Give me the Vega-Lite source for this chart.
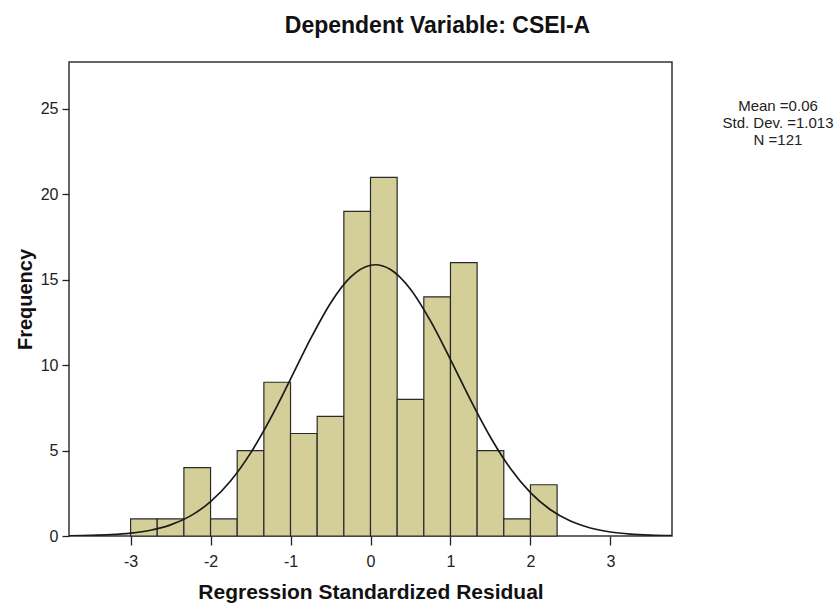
{
  "$schema": "https://vega.github.io/schema/vega-lite/v6.json",
  "width": 603,
  "height": 474,
  "autosize": {"type": "none"},
  "padding": {"left": 69, "top": 62, "right": 168, "bottom": 77},
  "background": "#ffffff",
  "title": {
    "text": "Dependent Variable: CSEI-A",
    "font": "Liberation Sans",
    "fontSize": 23,
    "fontWeight": "bold",
    "color": "#111111",
    "anchor": "middle",
    "baseline": "bottom",
    "offset": 1,
    "dx": 67
  },
  "config": {
    "view": {"fill": "#F0F0F0", "stroke": "#333333", "strokeWidth": 1.5},
    "axis": {
      "labelFont": "Liberation Sans",
      "titleFont": "Liberation Sans",
      "labelColor": "#222222",
      "titleColor": "#111111",
      "tickColor": "#222222",
      "grid": false,
      "domain": false
    }
  },
  "datasets": {
    "bins": [
      {"lo": -3.0, "hi": -2.6667, "count": 1},
      {"lo": -2.6667, "hi": -2.3333, "count": 1},
      {"lo": -2.3333, "hi": -2.0, "count": 4},
      {"lo": -2.0, "hi": -1.6667, "count": 1},
      {"lo": -1.6667, "hi": -1.3333, "count": 5},
      {"lo": -1.3333, "hi": -1.0, "count": 9},
      {"lo": -1.0, "hi": -0.6667, "count": 6},
      {"lo": -0.6667, "hi": -0.3333, "count": 7},
      {"lo": -0.3333, "hi": 0.0, "count": 19},
      {"lo": 0.0, "hi": 0.3333, "count": 21},
      {"lo": 0.3333, "hi": 0.6667, "count": 8},
      {"lo": 0.6667, "hi": 1.0, "count": 14},
      {"lo": 1.0, "hi": 1.3333, "count": 16},
      {"lo": 1.3333, "hi": 1.6667, "count": 5},
      {"lo": 1.6667, "hi": 2.0, "count": 1},
      {"lo": 2.0, "hi": 2.3333, "count": 3}
    ],
    "curve": [
      {"x": -3.77, "f": 0.012},
      {"x": -3.5, "f": 0.033},
      {"x": -3.25, "f": 0.076},
      {"x": -3.0, "f": 0.166},
      {"x": -2.75, "f": 0.339},
      {"x": -2.5, "f": 0.652},
      {"x": -2.25, "f": 1.179},
      {"x": -2.0, "f": 2.009},
      {"x": -1.75, "f": 3.219},
      {"x": -1.5, "f": 4.851},
      {"x": -1.25, "f": 6.883},
      {"x": -1.0, "f": 9.185},
      {"x": -0.75, "f": 11.535},
      {"x": -0.5, "f": 13.63},
      {"x": -0.25, "f": 15.15},
      {"x": 0.0, "f": 15.85},
      {"x": 0.06, "f": 15.88},
      {"x": 0.25, "f": 15.6},
      {"x": 0.5, "f": 14.45},
      {"x": 0.75, "f": 12.59},
      {"x": 1.0, "f": 10.33},
      {"x": 1.25, "f": 7.966},
      {"x": 1.5, "f": 5.782},
      {"x": 1.75, "f": 3.95},
      {"x": 2.0, "f": 2.538},
      {"x": 2.25, "f": 1.535},
      {"x": 2.5, "f": 0.873},
      {"x": 2.75, "f": 0.467},
      {"x": 3.0, "f": 0.235},
      {"x": 3.25, "f": 0.112},
      {"x": 3.5, "f": 0.05},
      {"x": 3.77, "f": 0.019}
    ],
    "stats": [
      {"stat": "Mean =0.06"},
      {"stat": "Std. Dev. =1.013"},
      {"stat": "N =121"}
    ]
  },
  "layer": [
    {
      "data": {"name": "bins"},
      "mark": {"type": "rect", "fill": "#D4CF98", "stroke": "#2a2a2a", "strokeWidth": 1.2},
      "encoding": {
        "x": {
          "field": "lo",
          "type": "quantitative",
          "scale": {"domain": [-3.77, 3.77], "nice": false, "zero": false},
          "axis": {
            "values": [-3, -2, -1, 0, 1, 2, 3],
            "labelExpr": "'' + datum.value",
            "title": "Regression Standardized Residual",
            "titleFontSize": 21,
            "titleFontWeight": "bold",
            "titlePadding": 12,
            "labelFontSize": 16,
            "tickSize": 9,
            "tickWidth": 1.3,
            "labelPadding": 8
          }
        },
        "x2": {"field": "hi"},
        "y": {
          "field": "count",
          "type": "quantitative",
          "scale": {"domain": [0, 27.75], "nice": false},
          "axis": {
            "values": [0, 5, 10, 15, 20, 25],
            "labelExpr": "'' + datum.value",
            "title": "Frequency",
            "titleFontSize": 20,
            "titleFontWeight": "bold",
            "titlePadding": 5,
            "labelFontSize": 16,
            "tickSize": 7,
            "tickWidth": 1.3,
            "labelPadding": 4
          }
        },
        "y2": {"datum": 0}
      }
    },
    {
      "data": {"name": "curve"},
      "mark": {"type": "line", "color": "#1a1a1a", "strokeWidth": 1.7, "interpolate": "monotone", "clip": true},
      "encoding": {
        "x": {"field": "x", "type": "quantitative"},
        "y": {"field": "f", "type": "quantitative"}
      }
    },
    {
      "data": {"name": "stats"},
      "mark": {"type": "point", "opacity": 0},
      "encoding": {
        "color": {
          "field": "stat",
          "type": "nominal",
          "scale": {"domain": ["Mean =0.06", "Std. Dev. =1.013", "N =121"], "range": ["#000000", "#000000", "#000000"]},
          "legend": {
            "title": null,
            "orient": "right",
            "offset": 0,
            "padding": 36,
            "symbolSize": 0,
            "symbolStrokeWidth": 0,
            "symbolOpacity": 0,
            "labelAlign": "center",
            "labelOffset": 55,
            "labelFont": "Liberation Sans",
            "labelFontSize": 15,
            "labelColor": "#222222",
            "labelLimit": 200,
            "rowPadding": 1
          }
        }
      }
    }
  ]
}
